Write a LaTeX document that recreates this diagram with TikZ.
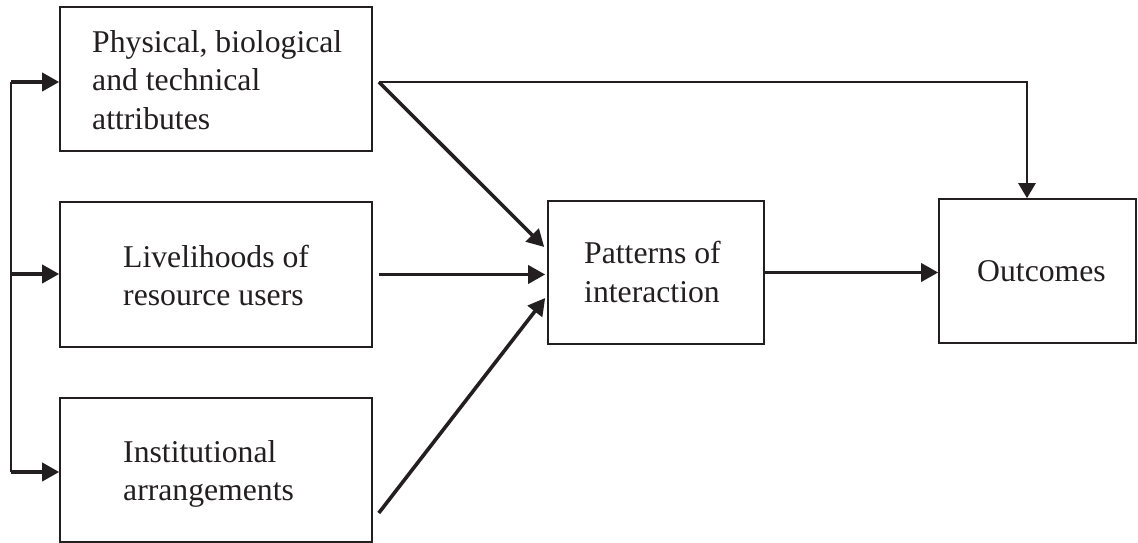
\documentclass[tikz,border=0pt]{standalone}
\usepackage{fontspec}
\setmainfont{Liberation Serif}
\usetikzlibrary{arrows.meta}
\definecolor{ink}{RGB}{35,31,32}
\tikzset{
  box/.style={draw=ink, line width=1.6pt, rectangle, inner sep=0pt},
  lbl/.style={inner sep=0pt, align=left, anchor=west, text=ink,
              font=\fontsize{31.7}{38.5}\selectfont},
  arr/.style={draw=ink, line width=3.6pt, -{Triangle[length=17pt,width=18pt]}},
  busline/.style={draw=ink, line width=2.2pt},
  topline/.style={draw=ink, line width=2.6pt, -{Triangle[length=15pt,width=17pt]}}
}
\begin{document}
\begin{tikzpicture}[x=1pt,y=1pt]
\useasboundingbox[fill=white] (0,0) rectangle (1138,543);
% boxes
\node[box, minimum width=312pt, minimum height=144pt] (b1) at (216,464) {};
\node[box, minimum width=312pt, minimum height=145pt] (b2) at (216,268.5) {};
\node[box, minimum width=312pt, minimum height=144pt] (b3) at (216,73) {};
\node[box, minimum width=216pt, minimum height=143pt] (b4) at (656,270.5) {};
\node[box, minimum width=197pt, minimum height=144pt] (b5) at (1037.5,272) {};
% labels
\node[lbl] (l1) at (92,463) {Physical, biological\\and technical\\attributes};
\node[lbl] (l2) at (123,267.5) {Livelihoods of\\resource users};
\node[lbl] (l3) at (123,69) {Institutional\\arrangements};
\node[lbl] (l4) at (584,271) {Patterns of\\interaction};
\node[lbl] (l5) at (977,271.5) {Outcomes};
% left bus
\coordinate (bus1) at (11,461);
\coordinate (bus2) at (11,269);
\coordinate (bus3) at (11,71);
\draw[busline] (bus1) -- (bus3);
\draw[arr] (bus1) -- (bus1 -| b1.west);
\draw[arr] (bus2) -- (bus2 -| b2.west);
\draw[arr] (bus3) -- (bus3 -| b3.west);
% arrows into patterns
\coordinate (s1) at ([shift={(6,-3)}]b1.east);
\draw[arr] (s1) -- ([shift={(-3,25.5)}]b4.west);
\draw[arr] ([xshift=6pt]b2.east) -- ([xshift=-2pt]b4.west |- b2.east);
\draw[arr] ([shift={(6,-43)}]b3.east) -- ([shift={(-2,-25.5)}]b4.west);
% to outcomes
\draw[topline] (s1) -| ([xshift=-10.5pt]b5.north);
\draw[arr] (b4.east) -- (b5.west |- b4.east);
\end{tikzpicture}
\end{document}
